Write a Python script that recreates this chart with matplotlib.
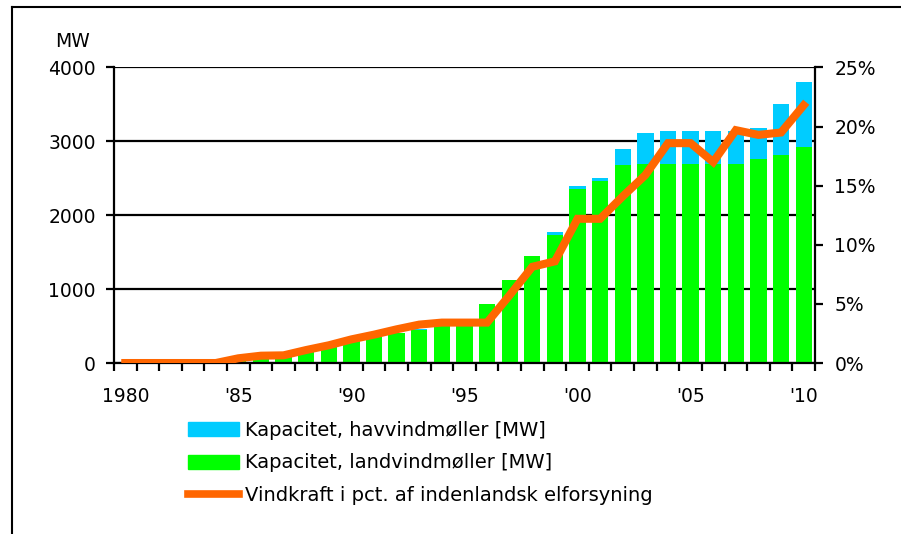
import matplotlib
matplotlib.use("Agg")
import matplotlib.pyplot as plt
import numpy as np
from matplotlib.lines import Line2D
from matplotlib.patches import Patch

# data
years = list(range(1980, 2011))
land_mw = [0, 5, 10, 15, 20, 40, 60, 100, 180, 240, 300, 350, 400, 450, 500,
           540, 800, 1120, 1450, 1735, 2360, 2460, 2680, 2700, 2700, 2700,
           2700, 2700, 2755, 2815, 2925]
sea_mw = [0, 0, 0, 0, 0, 0, 0, 0, 0, 0, 0, 5, 5, 5, 5,
          5, 5, 5, 5, 36, 36, 45, 217, 416, 440, 440,
          440, 440, 428, 695, 885]
share_pct = [0, 0, 0, 0, 0, 0.4, 0.62, 0.65, 1.1, 1.5, 2.0, 2.4, 2.85, 3.25, 3.42,
             3.42, 3.42, 5.74, 8.14, 8.6, 12.2, 12.2, 14.1, 15.9, 18.6, 18.6,
             17.0, 19.7, 19.3, 19.5, 21.8]
xlabels = ["1980", "'85", "'90", "'95", "'00", "'05", "'10"]
legend_labels = ["Kapacitet, havvindmøller [MW]",
                 "Kapacitet, landvindmøller [MW]",
                 "Vindkraft i pct. af indenlandsk elforsyning"]

GREEN, BLUE, ORANGE = "#00ff00", "#00ccff", "#ff6600"
FS = 13.5

fig = plt.figure(figsize=(9.01, 5.34), dpi=100, facecolor="white")
ax = fig.add_axes([0.1265, 0.3202, 0.7780, 0.5534])

x = np.arange(len(years))
ax.bar(x, land_mw, width=0.72, color=GREEN, zorder=2)
ax.bar(x, sea_mw, width=0.72, bottom=land_mw, color=BLUE, zorder=2)

ax.set_xlim(-0.5, len(years) - 0.5)
ax.set_ylim(0, 4000)
ax.set_yticks(range(0, 4001, 1000))
ax.set_yticklabels(["0", "1000", "2000", "3000", "4000"], fontsize=FS)
ax.grid(axis="y", color="black", lw=1.6, zorder=0)
ax.set_axisbelow(True)

ax.set_xticks(x[::5])
ax.set_xticklabels(xlabels, fontsize=FS)
ax.set_xticks(np.arange(-0.5, len(years), 1.0), minor=True)
ax.tick_params(axis="x", which="major", length=0, pad=17)
ax.tick_params(axis="x", which="minor", length=6, width=1.6, direction="out")
ax.tick_params(axis="y", length=6, width=1.6, pad=7)

for side in ("top", "right"):
    ax.spines[side].set_visible(False)
for side in ("left", "bottom"):
    ax.spines[side].set_linewidth(1.6)

ax.text(-0.034, 1.055, "MW", transform=ax.transAxes, ha="right", va="bottom",
        fontsize=FS)

ax2 = ax.twinx()
ax2.plot(x, share_pct, color=ORANGE, lw=5.8, solid_joinstyle="miter", zorder=3)
ax2.set_ylim(0, 25)
ax2.set_yticks(range(0, 26, 5))
ax2.set_yticklabels([f"{v}%" for v in range(0, 26, 5)], fontsize=FS)
ax2.tick_params(axis="y", length=6, width=1.6, pad=8)
for side in ("top", "left", "bottom"):
    ax2.spines[side].set_visible(False)
ax2.spines["right"].set_linewidth(1.6)

handles = [Patch(color=BLUE), Patch(color=GREEN),
           Line2D([], [], color=ORANGE, lw=5.5)]
fig.legend(handles, legend_labels, loc="upper left",
           bbox_to_anchor=(0.209, 0.212), frameon=False, fontsize=14,
           handlelength=2.6, handleheight=0.75, handletextpad=0.3,
           labelspacing=0.7, borderaxespad=0, borderpad=0)

# outer frame: only top and left edges
fig.add_artist(Line2D([0.0128, 1.0], [0.987, 0.987], color="black", lw=1.5,
                      transform=fig.transFigure))
fig.add_artist(Line2D([0.0128, 0.0128], [0.0, 0.987], color="black", lw=1.5,
                      transform=fig.transFigure))

fig.savefig("out.png", dpi=100, facecolor="white")
